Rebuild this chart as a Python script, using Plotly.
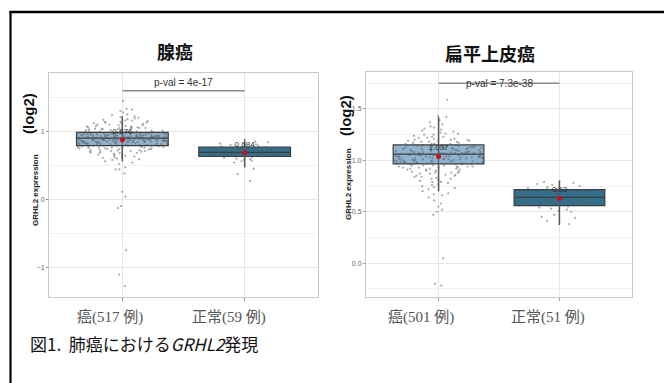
import plotly.graph_objects as go

W, H = 664, 383

# ---- data ---------------------------------------------------------------
panel_titles = ["腺癌", "扁平上皮癌"]
group_labels = [["癌(517 例)", "正常(59 例)"], ["癌(501 例)", "正常(51 例)"]]
pvals = ["4e-17", "7.3e-38"]
bracket_y = [1.60, 1.75]

adeno_tumor = [
    0.91, 0.87, 0.95, 0.82, 1.03, 0.78, 0.86, 0.98, 0.92, 0.74, 1.08, 0.89, 0.81, 0.94, 0.99, 0.85, 0.77, 0.93, 1.06, 0.88,
    0.84, 0.96, 0.72, 0.90, 1.12, 0.83, 0.79, 0.97, 0.86, 0.69, 1.01, 0.92, 0.88, 0.75, 0.95, 1.15, 0.81, 0.87, 0.93, 0.66,
    0.99, 0.85, 0.90, 0.78, 1.04, 0.94, 0.71, 0.89, 0.83, 1.10, 0.96, 0.80, 0.87, 0.63, 0.92, 1.18, 0.85, 0.76, 0.98, 0.91,
    0.82, 1.07, 0.88, 0.73, 0.95, 0.86, 1.00, 0.79, 0.93, 0.68, 1.13, 0.90, 0.84, 0.97, 0.77, 1.05, 0.89, 0.61, 0.94, 0.87,
    0.80, 1.02, 0.92, 0.75, 0.88, 1.20, 0.83, 0.96, 0.70, 0.91, 0.86, 1.09, 0.78, 0.99, 0.85, 0.58, 0.93, 1.16, 0.89, 0.82,
    0.97, 0.74, 1.04, 0.87, 0.91, 0.65, 0.95, 0.81, 1.11, 0.88, 0.76, 1.00, 0.84, 0.93, 0.60, 1.14, 0.90, 0.79, 0.98, 0.86,
    0.72, 1.06, 0.92, 0.83, 0.96, 0.67, 1.22, 0.89, 0.80, 0.94, 0.85, 1.03, 0.77, 0.91, 0.56, 0.99, 0.87, 1.17, 0.82, 0.95,
    0.88, 0.71, 1.01, 0.93, 0.79, 1.08, 0.86, 0.62, 0.97, 0.90, 0.84, 1.25, 0.76, 0.92, 0.99, 0.81, 0.69, 1.05, 0.89, 0.94,
    0.83, 0.98, 0.73, 1.12, 0.87, 0.91, 0.64, 1.02, 0.85, 0.95, 0.78, 1.19, 0.90, 0.82, 0.96, 0.70, 1.07, 0.88, 0.54, 0.93,
    0.86, 1.00, 0.80, 0.94, 1.14, 0.75, 0.89, 0.97, 0.84, 0.59, 1.10, 0.92, 0.87, 0.68, 1.04, 0.95, 0.81, 1.28, 0.90, 0.77,
    0.99, 0.85, 0.93, 0.72, 1.06, 0.88, 0.83, 1.16, 0.96, 0.66, 0.91, 0.79, 1.01, 0.87, 0.94, 0.52, 1.09, 0.84, 0.98, 0.90,
    0.76, 1.03, 0.89, 0.82, 0.95, 1.21, 0.86, 0.71, 0.92, 1.00, 0.80, 0.97, 0.63, 1.13, 0.88, 0.85, 0.94, 0.74, 1.05, 0.91,
    1.45, 1.33, 1.32, 1.24, 1.30, 0.44, 0.44, 0.38, 0.47, 0.11, 0.04, -0.10, -0.13, -0.75, -1.11, -1.28,
]
adeno_normal = [
    0.70, 0.66, 0.74, 0.63, 0.78, 0.68, 0.72, 0.60, 0.81, 0.69, 0.65, 0.75, 0.71, 0.58, 0.77, 0.67, 0.73, 0.84, 0.64, 0.70,
    0.62, 0.76, 0.69, 0.56, 0.80, 0.72, 0.66, 0.74, 0.61, 0.79, 0.68, 0.71, 0.85, 0.65, 0.73, 0.59, 0.76, 0.70, 0.63, 0.82,
    0.67, 0.74, 0.57, 0.71, 0.78, 0.64, 0.69, 0.75, 0.72, 0.54, 0.66, 0.80, 0.45, 0.37, 0.27,
]
squamous_tumor = [
    1.06, 1.02, 1.11, 0.97, 1.15, 0.93, 1.08, 1.20, 0.99, 1.04, 0.88, 1.13, 1.07, 0.95, 1.25, 1.01, 1.10, 0.91, 1.17, 1.05,
    0.98, 1.12, 0.85, 1.03, 1.22, 1.09, 0.96, 1.14, 0.82, 1.06, 1.00, 1.28, 0.94, 1.11, 1.04, 0.79, 1.18, 1.08, 0.97, 1.02,
    1.13, 0.90, 1.07, 1.31, 0.99, 1.05, 0.87, 1.16, 1.01, 0.93, 1.10, 0.76, 1.21, 1.06, 0.98, 1.14, 1.03, 0.84, 1.09, 1.26,
    0.95, 1.12, 1.00, 0.89, 1.19, 1.05, 0.73, 1.08, 0.97, 1.15, 1.02, 0.92, 1.33, 1.07, 0.86, 1.11, 0.99, 1.23, 1.04, 0.81,
    1.16, 0.96, 1.09, 0.70, 1.13, 1.01, 0.94, 1.27, 1.06, 0.88, 1.18, 0.98, 1.03, 0.78, 1.10, 1.22, 0.91, 1.07, 0.99, 1.14,
    1.04, 0.83, 1.20, 1.00, 0.95, 1.12, 0.67, 1.08, 1.02, 1.30, 0.93, 1.15, 0.86, 1.05, 0.97, 1.24, 1.01, 0.75, 1.11, 1.06,
    0.90, 1.17, 1.03, 0.80, 1.09, 0.98, 1.21, 0.94, 1.13, 0.64, 1.07, 1.00, 1.35, 0.92, 1.16, 1.04, 0.85, 1.10, 0.96, 1.19,
    1.02, 0.77, 1.14, 1.08, 0.89, 1.25, 0.99, 1.05, 0.72, 1.12, 0.95, 1.03, 1.29, 0.87, 1.09, 0.61, 1.18, 1.01, 0.93, 1.06,
    1.11, 0.84, 1.23, 0.97, 1.04, 0.68, 1.15, 1.00, 0.91, 1.32, 1.07, 0.79, 1.13, 1.02, 0.96, 1.20, 0.58, 1.08, 0.99, 1.16,
    0.94, 1.10, 1.05, 0.74, 1.26, 0.98, 1.03, 0.88, 1.14, 1.37, 0.92, 1.06, 0.82, 1.19, 1.01, 0.66, 1.12, 0.97, 1.08, 1.04,
    1.59, 1.43, 1.42, 1.39, 0.52, 0.50, 0.47, 0.55, 0.045, -0.20, -0.22,
]
squamous_normal = [
    0.64, 0.60, 0.69, 0.56, 0.72, 0.62, 0.66, 0.53, 0.75, 0.63, 0.58, 0.70, 0.65, 0.50, 0.77, 0.61, 0.68, 0.80, 0.57, 0.64,
    0.55, 0.71, 0.62, 0.47, 0.74, 0.67, 0.59, 0.79, 0.52, 0.66, 0.63, 0.70, 0.44, 0.60, 0.73, 0.54, 0.76, 0.65, 0.58, 0.41,
    0.68, 0.61, 0.78, 0.51, 0.64, 0.38, 0.72, 0.57, 0.69, 0.62, 0.45,
]

# box summaries per panel: [tumour, normal]
q1 = [[0.79, 0.63], [0.965, 0.56]]
median = [[0.90, 0.69], [1.06, 0.64]]
q3 = [[0.985, 0.77], [1.15, 0.716]]
lowerfence = [[0.56, 0.47], [0.70, 0.37]]
upperfence = [[1.22, 0.88], [1.42, 0.80]]
means = [[0.876, 0.684], [1.037, 0.63]]
mean_labels = [["0.876", "0.684"], ["1.037", "0.63"]]

samples = [[adeno_tumor, adeno_normal], [squamous_tumor, squamous_normal]]

# ---- styling -------------------------------------------------------------
box_fill = ["rgba(128,168,200,0.88)", "rgba(34,98,128,0.92)"]
box_line = "#3c3c3c"
point_color = "rgba(85,85,85,0.5)"
sans = "Liberation Sans, Arial, sans-serif"
cjk = "Noto Sans CJK JP"
serif = "Liberation Serif, DejaVu Serif, Noto Sans CJK JP"

fig = go.Figure()

axes = [("x", "y"), ("x2", "y2")]
for p, (xa, ya) in enumerate(axes):
    for g in range(2):
        fig.add_trace(go.Box(
            x=[g], q1=[q1[p][g]], median=[median[p][g]], q3=[q3[p][g]],
            lowerfence=[lowerfence[p][g]], upperfence=[upperfence[p][g]],
            width=0.75, whiskerwidth=0, fillcolor=box_fill[g],
            line=dict(color=box_line, width=1.2), boxpoints=False,
            xaxis=xa, yaxis=ya, showlegend=False, hoverinfo="skip",
        ))
        # whisker running through the box
        fig.add_trace(go.Scatter(
            x=[g, g], y=[lowerfence[p][g], upperfence[p][g]], mode="lines",
            line=dict(color="rgba(90,90,90,0.85)", width=1.4),
            xaxis=xa, yaxis=ya, showlegend=False, hoverinfo="skip",
        ))
        # jittered sample points (box itself hidden)
        vals = samples[p][g]
        fig.add_trace(go.Box(
            x=[g] * len(vals), y=vals, width=0.75, boxpoints="all", jitter=1.0,
            pointpos=0, fillcolor="rgba(0,0,0,0)", line=dict(color="rgba(0,0,0,0)", width=0),
            marker=dict(color=point_color, size=2.2),
            xaxis=xa, yaxis=ya, showlegend=False, hoverinfo="skip",
        ))
    # mean dots with their labels
    fig.add_trace(go.Scatter(
        x=[0, 1], y=means[p], mode="markers+text", text=mean_labels[p],
        textposition="top center", textfont=dict(family=sans, size=8, color="#333"),
        marker=dict(color="#c0141c", size=5),
        xaxis=xa, yaxis=ya, showlegend=False, hoverinfo="skip",
    ))
    # significance bracket
    fig.add_trace(go.Scatter(
        x=[0, 1], y=[bracket_y[p]] * 2, mode="lines",
        line=dict(color="#8a8a8a", width=1.5),
        xaxis=xa, yaxis=ya, showlegend=False, hoverinfo="skip",
    ))


def px(x):
    return x / W


def py(y):
    return 1 - y / H


grid_major = "#e6e6e6"
grid_minor = "#f2f2f2"
common_x = dict(range=[-0.6, 1.6], tickvals=[0, 1], showticklabels=False, ticks="outside",
                ticklen=3, tickcolor="#999", showgrid=True, gridcolor=grid_major, zeroline=False,
                showline=True, mirror=True, linecolor="#c8c8c8", linewidth=1)
common_y = dict(ticks="outside", ticklen=2, tickcolor="#999", showgrid=True, gridcolor=grid_major,
                zeroline=False, showline=True, mirror=True, linecolor="#c8c8c8", linewidth=1,
                tickfont=dict(family=sans, size=7, color="#666"))

fig.update_layout(
    width=W, height=H, margin=dict(l=0, r=0, t=0, b=0),
    paper_bgcolor="white", plot_bgcolor="white", boxmode="overlay",
    xaxis=dict(domain=[px(49), px(318)], anchor="y", **common_x),
    yaxis=dict(domain=[py(297), py(73)], anchor="x", range=[-1.44, 1.86], tickvals=[-1, 0, 1],
               minor=dict(dtick=0.5, tick0=0, showgrid=True, gridcolor=grid_minor, ticks=""), **common_y),
    xaxis2=dict(domain=[px(366), px(632)], anchor="y2", **common_x),
    yaxis2=dict(domain=[py(297), py(72)], anchor="x2", range=[-0.33, 1.86], tickvals=[0, 0.5, 1.0, 1.5],
                tickformat=".1f",
                minor=dict(dtick=0.25, tick0=0, showgrid=True, gridcolor=grid_minor, ticks=""), **common_y),
)

ann = []
# panel titles
for t, (cx, cy) in zip(panel_titles, [(175, 51), (490, 53)]):
    ann.append(dict(text=f"<b>{t}</b>", x=px(cx), y=py(cy), font=dict(family=cjk, size=18, color="#111"),
                    xanchor="center", yanchor="middle"))
# group labels under each panel
for labels, centres in zip(group_labels, [(110, 229), (421, 548)]):
    for lab, cx in zip(labels, centres):
        ann.append(dict(text=lab, x=px(cx), y=py(317), font=dict(family=serif, size=15, color="#555"),
                        xanchor="center", yanchor="middle"))
# axis titles
for (lx, ly), (gx, gy) in [((29, 114), (35, 190)), ((346, 116), (349, 184))]:
    ann.append(dict(text="<b>(log2)</b>", x=px(lx), y=py(ly), textangle=-90,
                    font=dict(family=sans, size=15, color="#111"), xanchor="center", yanchor="middle"))
    ann.append(dict(text="<b>GRHL2 expression</b>", x=px(gx), y=py(gy), textangle=-90,
                    font=dict(family=sans, size=8, color="#222"), xanchor="center", yanchor="middle"))
# p-values over the brackets
ann.append(dict(text=f"p-val = {pvals[0]}", x=0.5, y=bracket_y[0], xref="x", yref="y", yshift=8,
                font=dict(family=sans, size=10, color="#333"), showarrow=False,
                xanchor="center", yanchor="middle"))
ann.append(dict(text=f"p-val = {pvals[1]}", x=0.5, y=bracket_y[1], xref="x2", yref="y2",
                font=dict(family=sans, size=10, color="#333"), showarrow=False,
                xanchor="center", yanchor="middle"))
# figure caption
ann.append(dict(text="図1.&nbsp;&nbsp;肺癌における<i>GRHL2</i>発現", x=px(28), y=py(343),
                font=dict(family=cjk, size=17, color="#111"), xanchor="left", yanchor="middle"))

for a in ann:
    a.setdefault("xref", "paper")
    a.setdefault("yref", "paper")
    a.setdefault("showarrow", False)
fig.update_layout(annotations=ann)

# outer frame (top and left edges)
fig.add_shape(type="line", xref="paper", yref="paper", x0=px(9.5), x1=1, y0=py(12), y1=py(12),
              line=dict(color="black", width=2.5))
fig.add_shape(type="line", xref="paper", yref="paper", x0=px(10.5), x1=px(10.5), y0=py(11), y1=0,
              line=dict(color="black", width=2.2))

fig.write_html("out.html")
